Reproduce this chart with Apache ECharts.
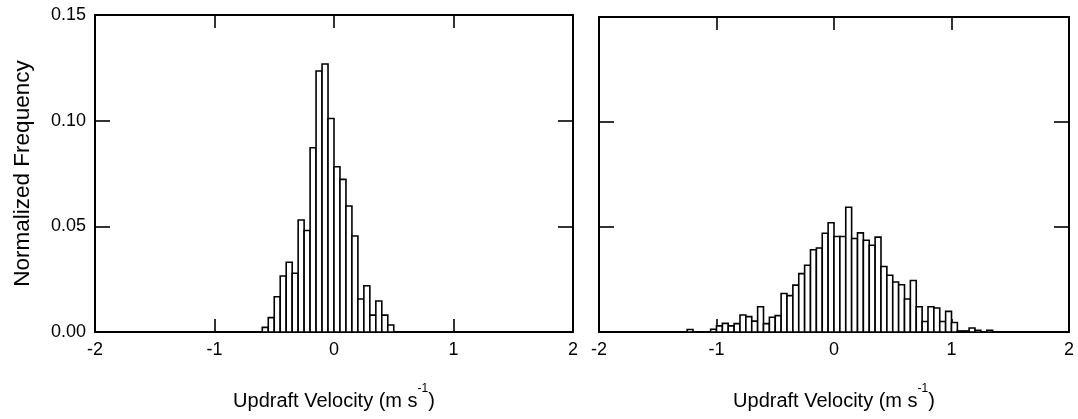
<!DOCTYPE html>
<html>
<head>
<meta charset="utf-8">
<script src="https://cdn.jsdelivr.net/npm/echarts@6/dist/echarts.min.js"></script>
<style>
  html, body { margin: 0; padding: 0; background: #fff; }
  #chart { width: 1078px; height: 419px; }
</style>
</head>
<body>
<div id="chart"></div>
<script>
// histogram bins are 0.05 m/s wide, listed by their left edge
var BIN_WIDTH = 0.05;

var leftBins = [-0.60, -0.55, -0.50, -0.45, -0.40, -0.35, -0.30, -0.25, -0.20, -0.15, -0.10, -0.05,
                0.00, 0.05, 0.10, 0.15, 0.20, 0.25, 0.30, 0.35, 0.40, 0.45];
var leftFreq = [0.0022, 0.0068, 0.0167, 0.0265, 0.0330, 0.0278, 0.0530, 0.0480, 0.0872, 0.1235, 0.1268, 0.1010,
                0.0782, 0.0722, 0.0596, 0.0454, 0.0156, 0.0219, 0.0080, 0.0147, 0.0080, 0.0033];

var rightBins = [-1.25, -1.20, -1.15, -1.10, -1.05, -1.00, -0.95, -0.90, -0.85, -0.80, -0.75, -0.70,
                 -0.65, -0.60, -0.55, -0.50, -0.45, -0.40, -0.35, -0.30, -0.25, -0.20, -0.15, -0.10, -0.05,
                 0.00, 0.05, 0.10, 0.15, 0.20, 0.25, 0.30, 0.35, 0.40, 0.45, 0.50, 0.55, 0.60, 0.65,
                 0.70, 0.75, 0.80, 0.85, 0.90, 0.95, 1.00, 1.05, 1.10, 1.15, 1.20, 1.25, 1.30];
var rightFreq = [0.0012, 0, 0, 0, 0.0013, 0.0029, 0.0041, 0.0029, 0.0040, 0.0081, 0.0073, 0.0052,
                 0.0120, 0.0040, 0.0070, 0.0078, 0.0183, 0.0173, 0.0223, 0.0278, 0.0318, 0.0392, 0.0400, 0.0470, 0.0520,
                 0.0455, 0.0455, 0.0594, 0.0445, 0.0472, 0.0437, 0.0413, 0.0452, 0.0312, 0.0270, 0.0238, 0.0225, 0.0157, 0.0245,
                 0.0120, 0.0050, 0.0120, 0.0114, 0.0050, 0.0098, 0.0045, 0.0005, 0.0005, 0.0019, 0.0008, 0, 0.0008];

var xMin = -2, xMax = 2, xStep = 1;
var yMin = 0, yMax = 0.15, yStep = 0.05;

var FONT = 'Liberation Sans, Arial, sans-serif';
var xTitle = '{t|Updraft Velocity (m s}{s|-1}{t|)}';
var yTitle = 'Normalized Frequency';

var lineStyle = { color: '#000', width: 2 };
var tickStyle = { color: '#000', width: 1.6 };

function pairs(xs, ys) {
    return xs.map(function (x, i) { return [x, ys[i]]; });
}

function renderBar(params, api) {
    var x0 = api.value(0), v = api.value(1);
    if (!v) return null;
    var p0 = api.coord([x0, 0]);
    var p1 = api.coord([x0 + BIN_WIDTH, v]);
    return {
        type: 'rect',
        shape: { x: p0[0], y: p1[1], width: p1[0] - p0[0], height: p0[1] - p1[1] },
        style: { fill: '#fff', stroke: '#000', lineWidth: 1.6 }
    };
}

function xAxes(grid) {
    var bottom = {
        gridIndex: grid, type: 'value', position: 'bottom',
        min: xMin, max: xMax, interval: xStep,
        axisLine: { show: true, onZero: false, lineStyle: lineStyle },
        axisTick: { show: true, inside: true, length: 13, lineStyle: tickStyle },
        axisLabel: { show: true, fontSize: 18, color: '#000', fontFamily: FONT, margin: 9 },
        splitLine: { show: false },
        name: xTitle, nameLocation: 'middle', nameGap: 51,
        nameTextStyle: {
            rich: {
                t: { fontSize: 20, fontFamily: FONT, color: '#000', lineHeight: 28, verticalAlign: 'bottom' },
                s: { fontSize: 12, fontFamily: FONT, color: '#000', lineHeight: 12, verticalAlign: 'top' }
            }
        }
    };
    var top = {
        gridIndex: grid, type: 'value', position: 'top',
        min: xMin, max: xMax, interval: xStep,
        axisLine: { show: true, onZero: false, lineStyle: lineStyle },
        axisTick: { show: true, inside: true, length: 13, lineStyle: tickStyle },
        axisLabel: { show: false },
        splitLine: { show: false }
    };
    return [bottom, top];
}

function yAxes(grid, withLabels) {
    var left = {
        gridIndex: grid, type: 'value', position: 'left',
        min: yMin, max: yMax, interval: yStep,
        axisLine: { show: true, onZero: false, lineStyle: lineStyle },
        axisTick: { show: true, inside: true, length: 15, lineStyle: tickStyle },
        axisLabel: {
            show: withLabels, fontSize: 18, color: '#000', fontFamily: FONT, margin: 9,
            formatter: function (v) { return v.toFixed(2); }
        },
        splitLine: { show: false }
    };
    if (withLabels) {
        left.name = yTitle;
        left.nameLocation = 'middle';
        left.nameGap = 61;
        left.nameTextStyle = { fontSize: 22.5, fontFamily: FONT, color: '#000' };
    }
    var right = {
        gridIndex: grid, type: 'value', position: 'right',
        min: yMin, max: yMax, interval: yStep,
        axisLine: { show: true, onZero: false, lineStyle: lineStyle },
        axisTick: { show: true, inside: true, length: 15, lineStyle: tickStyle },
        axisLabel: { show: false },
        splitLine: { show: false }
    };
    return [left, right];
}

var chart = echarts.init(document.getElementById('chart'), null, { renderer: 'canvas' });

var option = {
    backgroundColor: '#fff',
    animation: false,
    grid: [
        { left: 95, top: 15, width: 478, height: 317 },
        { left: 599, top: 17, width: 470, height: 315 }
    ],
    xAxis: xAxes(0).concat(xAxes(1)),
    yAxis: yAxes(0, true).concat(yAxes(1, false)),
    series: [
        {
            type: 'custom', name: 'left', xAxisIndex: 0, yAxisIndex: 0,
            renderItem: renderBar, encode: { x: 0, y: 1 },
            data: pairs(leftBins, leftFreq)
        },
        {
            type: 'custom', name: 'right', xAxisIndex: 2, yAxisIndex: 2,
            renderItem: renderBar, encode: { x: 0, y: 1 },
            data: pairs(rightBins, rightFreq)
        }
    ]
};

chart.setOption(option);
</script>
</body>
</html>
